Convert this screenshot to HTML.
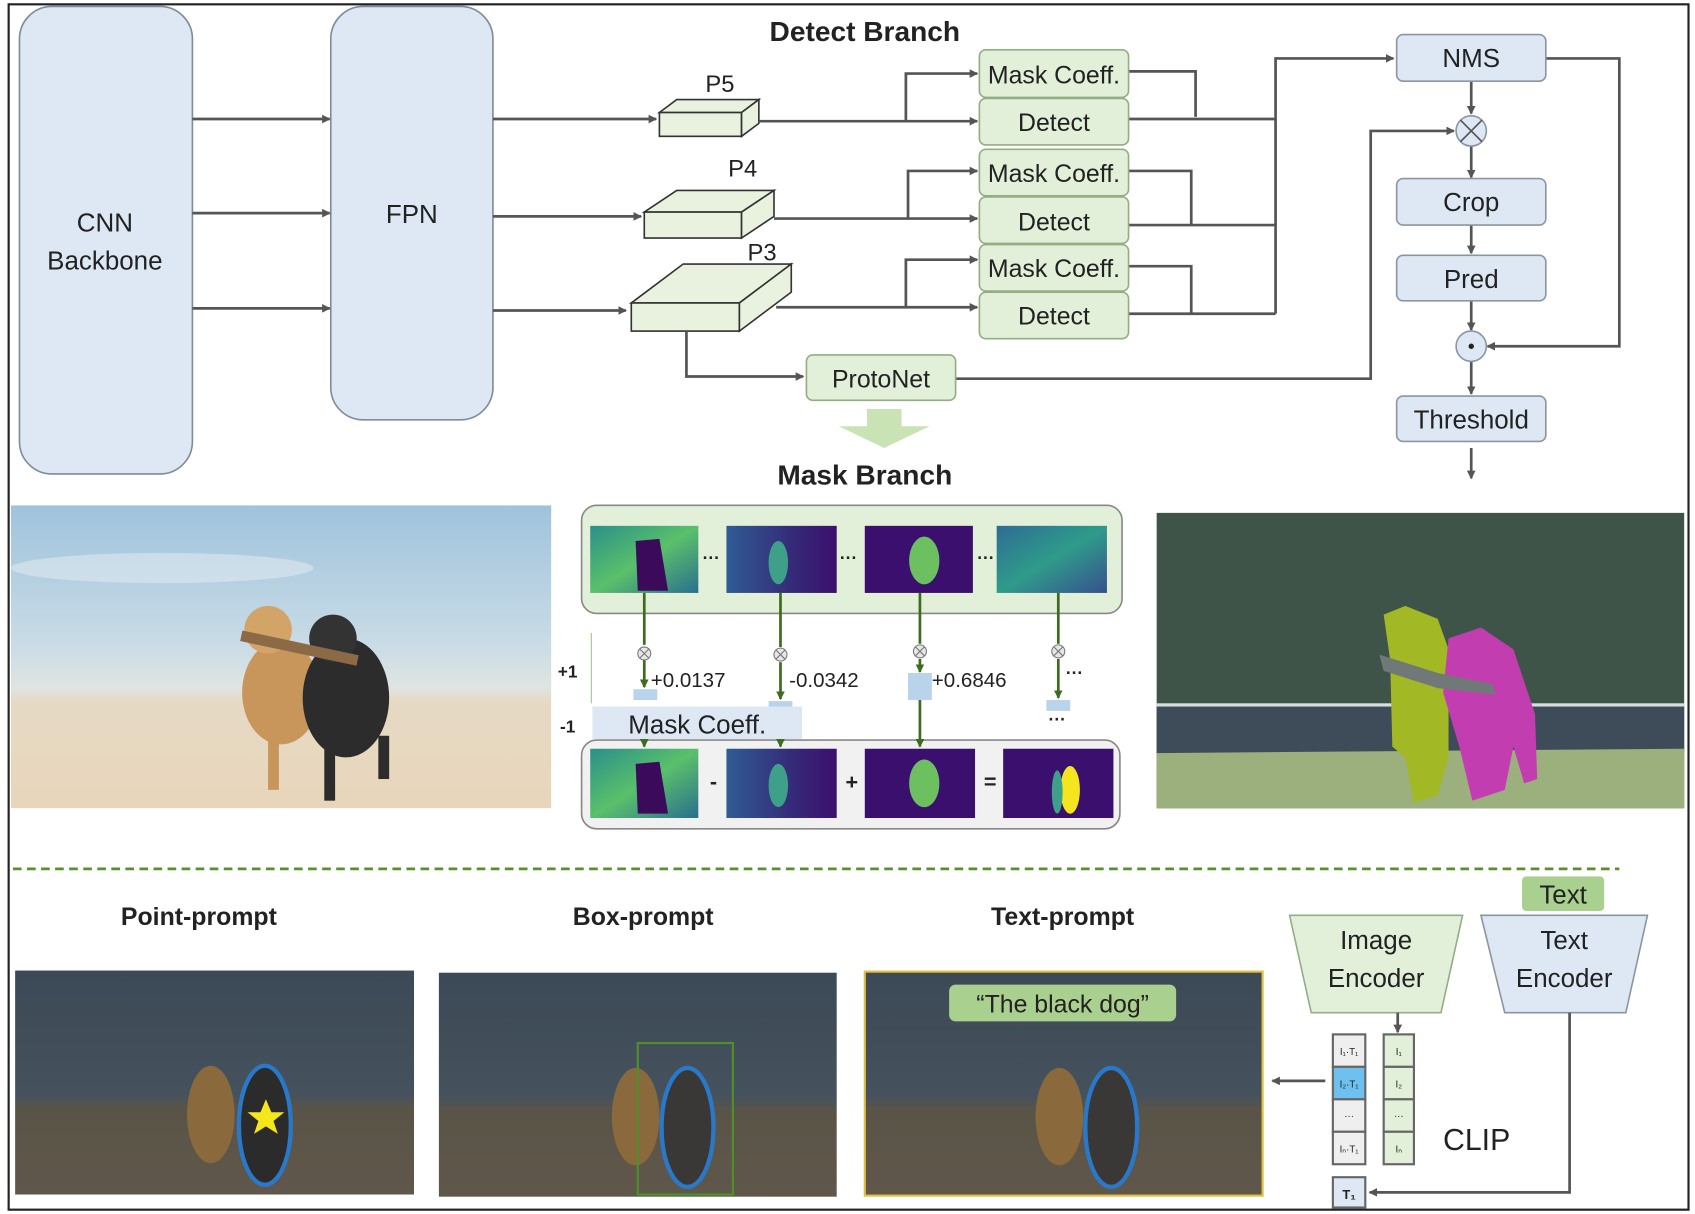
<!DOCTYPE html>
<html><head><meta charset="utf-8"><style>
html,body{margin:0;padding:0;background:#fff;}
svg{display:block;}
text{font-family:"Liberation Sans",sans-serif;fill:#222;}
</style></head><body>
<svg width="1695" height="1214" viewBox="0 0 1568 1122" preserveAspectRatio="none" xmlns="http://www.w3.org/2000/svg">
<defs>
<marker id="a" markerWidth="8" markerHeight="8" refX="7" refY="4" orient="auto" markerUnits="userSpaceOnUse"><path d="M0,0 L8,4 L0,8 z" fill="#555"/></marker>
<marker id="g" markerWidth="8" markerHeight="8" refX="7" refY="4" orient="auto" markerUnits="userSpaceOnUse"><path d="M0,0 L8,4 L0,8 z" fill="#3d6b1f"/></marker>
<linearGradient id="sky" x1="0" y1="0" x2="0" y2="1"><stop offset="0" stop-color="#9fc3dc"/><stop offset="0.45" stop-color="#c8dbe6"/><stop offset="0.6" stop-color="#dfe5e2"/><stop offset="0.65" stop-color="#e6d9c4"/><stop offset="1" stop-color="#e8d6bb"/></linearGradient>
<linearGradient id="dk" x1="0" y1="0" x2="0" y2="1"><stop offset="0" stop-color="#3c4956"/><stop offset="0.55" stop-color="#45525d"/><stop offset="0.62" stop-color="#5a5448"/><stop offset="1" stop-color="#5f574a"/></linearGradient>
<linearGradient id="hm1" x1="0" y1="0" x2="1" y2="1"><stop offset="0" stop-color="#2a8f8a"/><stop offset="0.5" stop-color="#5ac06a"/><stop offset="1" stop-color="#2a6f8e"/></linearGradient>
<linearGradient id="hm2" x1="0" y1="0" x2="1" y2="0"><stop offset="0" stop-color="#2f5c94"/><stop offset="0.6" stop-color="#352a78"/><stop offset="1" stop-color="#3b0f6e"/></linearGradient>
<linearGradient id="hm4" x1="0" y1="0" x2="1" y2="1"><stop offset="0" stop-color="#2d6c94"/><stop offset="0.5" stop-color="#2f9b8a"/><stop offset="1" stop-color="#37508e"/></linearGradient>
<clipPath id="lp"><rect x="10" y="467" width="500" height="280"/></clipPath>
</defs>
<rect x="8" y="4" width="1554" height="1114" fill="none" stroke="#222" stroke-width="2"/>

<rect x="18" y="6" width="160" height="432" rx="30" fill="#dde8f4" stroke="#7f8c99" stroke-width="1.5"/>
<text x="97" y="214" font-size="24" text-anchor="middle">CNN</text>
<text x="97" y="249" font-size="24" text-anchor="middle">Backbone</text>
<rect x="306" y="6" width="150" height="382" rx="30" fill="#dde8f4" stroke="#7f8c99" stroke-width="1.5"/>
<text x="381" y="206" font-size="24" text-anchor="middle">FPN</text>
<g stroke="#555" stroke-width="2.5" fill="none" marker-end="url(#a)">
<line x1="178" y1="110" x2="305" y2="110"/><line x1="178" y1="197" x2="305" y2="197"/><line x1="178" y1="285" x2="305" y2="285"/>
<line x1="456" y1="110" x2="607" y2="110"/><line x1="456" y1="200" x2="593" y2="200"/><line x1="456" y1="287" x2="579" y2="287"/>
</g>
<text x="800" y="38" font-size="26" font-weight="bold" text-anchor="middle">Detect Branch</text>

<g fill="#e8f2de" stroke="#333" stroke-width="1.5">
<path d="M610,104 L686,104 L702,92 L626,92 Z"/><rect x="610" y="104" width="76" height="22"/><path d="M686,104 L702,92 L702,114 L686,126 Z"/>
<path d="M596,196 L686,196 L716,176 L626,176 Z"/><rect x="596" y="196" width="90" height="24"/><path d="M686,196 L716,176 L716,200 L686,220 Z"/>
<path d="M584,280 L684,280 L732,244 L632,244 Z"/><rect x="584" y="280" width="100" height="26"/><path d="M684,280 L732,244 L732,270 L684,306 Z"/>
</g>
<text x="666" y="85" font-size="22" text-anchor="middle">P5</text>
<text x="687" y="163" font-size="22" text-anchor="middle">P4</text>
<text x="705" y="241" font-size="22" text-anchor="middle">P3</text>

<g stroke="#555" stroke-width="2.5" fill="none">
<line x1="702" y1="112" x2="904" y2="112" marker-end="url(#a)"/>
<polyline points="838,112 838,68 904,68" marker-end="url(#a)"/>
<line x1="716" y1="202" x2="904" y2="202" marker-end="url(#a)"/>
<polyline points="840,202 840,158 904,158" marker-end="url(#a)"/>
<line x1="718" y1="284" x2="904" y2="284" marker-end="url(#a)"/>
<polyline points="838,284 838,240 904,240" marker-end="url(#a)"/>
<polyline points="1044,66 1106,66 1106,108"/>
<polyline points="1044,158 1102,158 1102,208"/>
<polyline points="1044,246 1102,246 1102,290"/>
<line x1="1044" y1="110" x2="1180" y2="110"/>
<line x1="1044" y1="208" x2="1180" y2="208"/>
<line x1="1044" y1="290" x2="1180" y2="290"/>
<polyline points="1180,290 1180,54 1289,54" marker-end="url(#a)"/>
<polyline points="635,306 635,348 743,348" marker-end="url(#a)"/>
<polyline points="884,350 1268,350 1268,121 1345,121" marker-end="url(#a)"/>
<polyline points="1430,54 1498,54 1498,320 1376,320" marker-end="url(#a)"/>
<line x1="1361" y1="75" x2="1361" y2="105" marker-end="url(#a)"/>
<line x1="1361" y1="135" x2="1361" y2="164" marker-end="url(#a)"/>
<line x1="1361" y1="208" x2="1361" y2="234" marker-end="url(#a)"/>
<line x1="1361" y1="278" x2="1361" y2="305" marker-end="url(#a)"/>
<line x1="1361" y1="334" x2="1361" y2="364" marker-end="url(#a)"/>
<line x1="1361" y1="414" x2="1361" y2="442" marker-end="url(#a)"/>
</g>

<g fill="#e2efd9" stroke="#93ad84" stroke-width="1.5">
<rect x="906" y="46" width="138" height="44" rx="6"/><rect x="906" y="91" width="138" height="43" rx="6"/>
<rect x="906" y="138" width="138" height="43" rx="6"/><rect x="906" y="182" width="138" height="43" rx="6"/>
<rect x="906" y="226" width="138" height="43" rx="6"/><rect x="906" y="270" width="138" height="43" rx="6"/>
<rect x="746" y="328" width="138" height="42" rx="6"/>
</g>
<g font-size="23" text-anchor="middle">
<text x="975" y="77">Mask Coeff.</text><text x="975" y="121">Detect</text>
<text x="975" y="168">Mask Coeff.</text><text x="975" y="213">Detect</text>
<text x="975" y="256">Mask Coeff.</text><text x="975" y="300">Detect</text>
<text x="815" y="358">ProtoNet</text>
</g>

<g fill="#dde8f4" stroke="#8a96a3" stroke-width="1.5">
<rect x="1292" y="32" width="138" height="43" rx="6"/>
<rect x="1292" y="165" width="138" height="43" rx="6"/>
<rect x="1292" y="236" width="138" height="42" rx="6"/>
<rect x="1292" y="366" width="138" height="42" rx="6"/>
<circle cx="1361" cy="121" r="14"/><circle cx="1361" cy="320" r="14"/>
</g>
<path d="M1351,111 L1371,131 M1371,111 L1351,131" stroke="#555" stroke-width="1.5"/>
<circle cx="1361" cy="320" r="2.5" fill="#222"/>
<g font-size="24" text-anchor="middle">
<text x="1361" y="62">NMS</text><text x="1361" y="195">Crop</text><text x="1361" y="266">Pred</text><text x="1361" y="396">Threshold</text>
</g>

<path d="M802,378 L834,378 L834,394 L860,394 L818,414 L776,394 L802,394 Z" fill="#c9e3b4"/>
<text x="800" y="448" font-size="26" font-weight="bold" text-anchor="middle">Mask Branch</text>

<g clip-path="url(#lp)">
<rect x="10" y="467" width="500" height="280" fill="url(#sky)"/>
<ellipse cx="150" cy="525" rx="140" ry="14" fill="#e6eef2" opacity="0.5"/>
<ellipse cx="260" cy="640" rx="36" ry="48" fill="#c8955a"/>
<ellipse cx="248" cy="582" rx="22" ry="22" fill="#d2a467"/>
<ellipse cx="320" cy="645" rx="40" ry="55" fill="#2c2c2c"/>
<ellipse cx="308" cy="590" rx="22" ry="22" fill="#333"/>
<rect x="222" y="594" width="110" height="10" fill="#8b6a45" transform="rotate(12 277 599)"/>
<rect x="248" y="680" width="10" height="50" fill="#c8955a"/><rect x="300" y="690" width="10" height="50" fill="#2c2c2c"/><rect x="350" y="680" width="10" height="40" fill="#2c2c2c"/>
</g>

<rect x="538" y="467" width="500" height="100" rx="14" fill="#e2efd9" stroke="#888" stroke-width="1.5"/>
<rect x="546" y="486" width="100" height="62" fill="url(#hm1)"/><path d="M588,500 L610,498 L618,546 L590,546 Z" fill="#3b0a5a"/>
<rect x="672" y="486" width="102" height="62" fill="url(#hm2)"/><ellipse cx="720" cy="520" rx="9" ry="20" fill="#3fa08a"/>
<rect x="800" y="486" width="100" height="62" fill="#3b0f6e"/><ellipse cx="855" cy="518" rx="14" ry="22" fill="#6dc060"/>
<rect x="922" y="486" width="102" height="62" fill="url(#hm4)"/>
<g font-size="16" font-weight="bold"><text x="650" y="521">···</text><text x="777" y="521">···</text><text x="904" y="521">···</text></g>

<rect x="538" y="684" width="498" height="82" rx="14" fill="#f1f1f1" stroke="#888" stroke-width="1.5"/>
<rect x="546" y="692" width="100" height="64" fill="url(#hm1)"/><path d="M588,706 L610,704 L618,752 L590,752 Z" fill="#3b0a5a"/>
<rect x="672" y="692" width="102" height="64" fill="url(#hm2)"/><ellipse cx="720" cy="726" rx="9" ry="20" fill="#3fa08a"/>
<rect x="800" y="692" width="102" height="64" fill="#3b0f6e"/><ellipse cx="855" cy="724" rx="14" ry="22" fill="#6dc060"/>
<rect x="928" y="692" width="102" height="64" fill="#3b0f6e"/><ellipse cx="990" cy="730" rx="9" ry="22" fill="#f4e51f"/><ellipse cx="978" cy="732" rx="5" ry="20" fill="#3fa08a"/>
<g font-size="20" font-weight="bold" text-anchor="middle"><text x="660" y="729">-</text><text x="788" y="729">+</text><text x="916" y="729">=</text></g>

<g stroke="#3d6b1f" stroke-width="2.5" fill="none">
<line x1="596" y1="548" x2="596" y2="596"/><line x1="596" y1="610" x2="596" y2="635" marker-end="url(#g)"/><line x1="596" y1="660" x2="596" y2="690" marker-end="url(#g)"/>
<line x1="722" y1="548" x2="722" y2="598"/><line x1="722" y1="612" x2="722" y2="646" marker-end="url(#g)"/><line x1="722" y1="660" x2="722" y2="690" marker-end="url(#g)"/>
<line x1="851" y1="548" x2="851" y2="595"/><line x1="851" y1="609" x2="851" y2="621" marker-end="url(#g)"/><line x1="851" y1="646" x2="851" y2="690" marker-end="url(#g)"/>
<line x1="979" y1="548" x2="979" y2="595"/><line x1="979" y1="609" x2="979" y2="645" marker-end="url(#g)"/>
</g>
<g fill="#e6e6e6" stroke="#777" stroke-width="1"><circle cx="596" cy="604" r="6"/><circle cx="722" cy="605" r="6"/><circle cx="851" cy="602" r="6"/><circle cx="979" cy="602" r="6"/></g>
<g stroke="#777" stroke-width="1"><path d="M592,600 L600,608 M600,600 L592,608"/><path d="M718,601 L726,609 M726,601 L718,609"/><path d="M847,598 L855,606 M855,598 L847,606"/><path d="M975,598 L983,606 M983,598 L975,606"/></g>
<g fill="#b8d3ea"><rect x="586" y="637" width="22" height="10"/><rect x="711" y="648" width="22" height="8"/><rect x="840" y="622" width="22" height="25"/><rect x="968" y="647" width="22" height="10"/></g>
<line x1="547" y1="650" x2="547" y2="585" stroke="#9cc48a" stroke-width="1"/>
<rect x="548" y="653" width="194" height="30" fill="#dde8f4"/>
<text x="645" y="678" font-size="24" text-anchor="middle">Mask Coeff.</text>
<g font-size="19"><text x="602" y="635">+0.0137</text><text x="730" y="635">-0.0342</text><text x="862" y="635">+0.6846</text></g>
<g font-size="16" font-weight="bold"><text x="986" y="627">···</text><text x="970" y="670">···</text><text x="516" y="626">+1</text><text x="518" y="677">-1</text></g>

<rect x="1070" y="474" width="488" height="273" fill="#3f5449"/>
<rect x="1070" y="652" width="488" height="44" fill="#3e4c5a"/>
<rect x="1070" y="650" width="488" height="3" fill="#d8dde0"/>
<path d="M1070,696 L1558,692 L1558,747 L1070,747 Z" fill="#9bb07d"/>
<path d="M1280,568 L1300,560 L1330,572 L1340,600 L1340,700 L1330,735 L1308,742 L1300,700 L1288,690 L1286,610 Z" fill="#a2b824"/>
<path d="M1340,590 L1370,580 L1400,600 L1420,660 L1422,720 L1410,724 L1400,690 L1392,730 L1362,740 L1350,690 L1335,640 Z" fill="#c23db0"/>
<path d="M1276,605 L1330,622 L1380,632 L1384,642 L1330,636 L1280,620 Z" fill="#707878"/>

<line x1="12" y1="803" x2="1498" y2="803" stroke="#5b8f2e" stroke-width="2.5" stroke-dasharray="8,5"/>

<g font-size="23" font-weight="bold" text-anchor="middle"><text x="184" y="855">Point-prompt</text><text x="595" y="855">Box-prompt</text><text x="983" y="855">Text-prompt</text></g>
<rect x="14" y="897" width="369" height="207" fill="url(#dk)"/>
<rect x="406" y="899" width="368" height="207" fill="url(#dk)"/>
<rect x="800" y="898" width="368" height="207" fill="url(#dk)" stroke="#e0c040" stroke-width="2"/>
<g>
<ellipse cx="195" cy="1030" rx="22" ry="45" fill="#8a6a3c"/><ellipse cx="245" cy="1040" rx="24" ry="55" fill="#2b2b2b" stroke="#2a78c8" stroke-width="4"/>
<path d="M246,1016 L251,1028 L263,1028 L253,1036 L257,1048 L246,1041 L235,1048 L239,1036 L229,1028 L241,1028 Z" fill="#f5e71c"/>
<ellipse cx="588" cy="1032" rx="22" ry="45" fill="#8a6a3c"/><ellipse cx="636" cy="1042" rx="24" ry="55" fill="#3a3836" stroke="#2a78c8" stroke-width="4"/>
<rect x="590" y="964" width="88" height="140" fill="none" stroke="#4f8f2a" stroke-width="2"/>
<ellipse cx="980" cy="1032" rx="22" ry="45" fill="#8a6a3c"/><ellipse cx="1028" cy="1042" rx="24" ry="55" fill="#3a3836" stroke="#2a78c8" stroke-width="4"/>
</g>
<rect x="878" y="910" width="210" height="34" rx="6" fill="#a9d08e"/>
<text x="983" y="936" font-size="23" text-anchor="middle">“The black dog”</text>

<path d="M1193,846 L1353,846 L1333,936 L1213,936 Z" fill="#e2efd9" stroke="#93ad84" stroke-width="1.5"/>
<text x="1273" y="877" font-size="24" text-anchor="middle">Image</text><text x="1273" y="912" font-size="24" text-anchor="middle">Encoder</text>
<path d="M1370,846 L1524,846 L1504,936 L1392,936 Z" fill="#dde8f4" stroke="#8a96a3" stroke-width="1.5"/>
<text x="1447" y="877" font-size="24" text-anchor="middle">Text</text><text x="1447" y="912" font-size="24" text-anchor="middle">Encoder</text>
<rect x="1408" y="810" width="76" height="32" rx="4" fill="#a9d08e"/>
<text x="1446" y="835" font-size="24" text-anchor="middle">Text</text>

<g stroke="#555" stroke-width="2.5" fill="none">
<line x1="1293" y1="936" x2="1293" y2="954" marker-end="url(#a)"/>
<polyline points="1452,936 1452,1102 1267,1102" marker-end="url(#a)"/>
<line x1="1226" y1="999" x2="1177" y2="999" marker-end="url(#a)"/>
</g>
<g stroke="#666" stroke-width="2">
<rect x="1233" y="956" width="30" height="30" fill="#efefef"/><rect x="1233" y="986" width="30" height="30" fill="#6ec0ee"/>
<rect x="1233" y="1016" width="30" height="30" fill="#efefef"/><rect x="1233" y="1046" width="30" height="30" fill="#efefef"/>
<rect x="1280" y="956" width="28" height="30" fill="#e2efd9"/><rect x="1280" y="986" width="28" height="30" fill="#e2efd9"/>
<rect x="1280" y="1016" width="28" height="30" fill="#e2efd9"/><rect x="1280" y="1046" width="28" height="30" fill="#e2efd9"/>
<rect x="1233" y="1088" width="30" height="28" fill="#dde8f4"/>
</g>
<g font-size="9" text-anchor="middle" fill="#666"><text x="1248" y="975">I₁·T₁</text><text x="1248" y="1005">I₂·T₁</text><text x="1248" y="1034">···</text><text x="1248" y="1065">Iₙ·T₁</text>
<text x="1294" y="975">I₁</text><text x="1294" y="1005">I₂</text><text x="1294" y="1034">···</text><text x="1294" y="1065">Iₙ</text></g>
<text x="1248" y="1108" font-size="12" text-anchor="middle" font-weight="bold">T₁</text>
<text x="1366" y="1063" font-size="28" text-anchor="middle">CLIP</text>
</svg>
</body></html>
